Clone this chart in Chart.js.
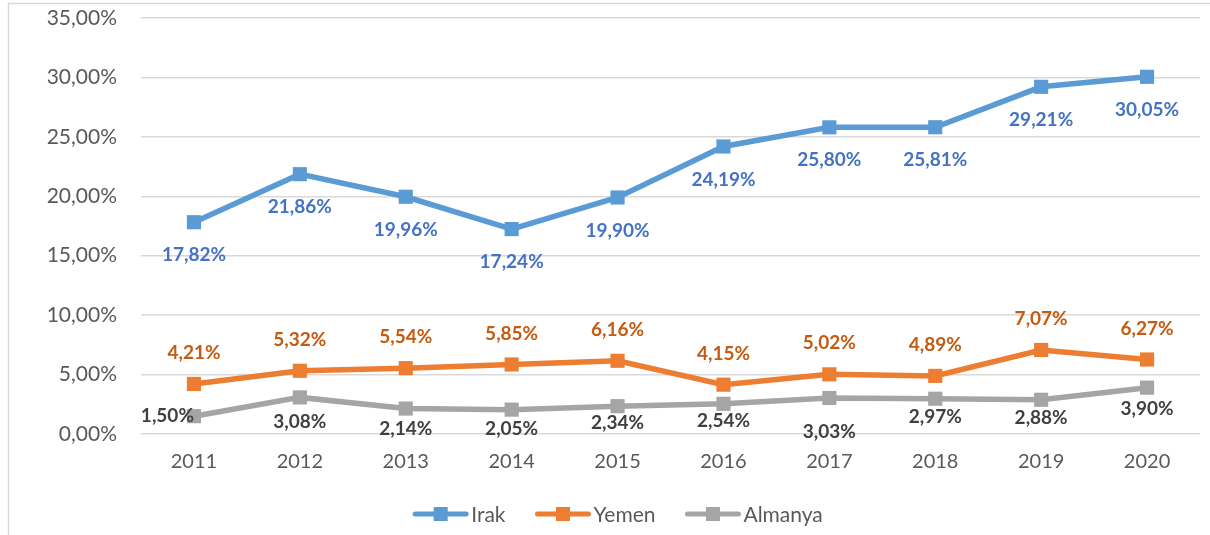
<!DOCTYPE html>
<html>
<head>
<meta charset="utf-8">
<script src="https://cdn.jsdelivr.net/npm/chart.js@4.4.1/dist/chart.umd.min.js"></script>
<style>
  html, body { margin: 0; padding: 0; background: #ffffff; }
  #wrap { position: relative; width: 1210px; height: 535px; }
  canvas { display: block; }
</style>
</head>
<body>
<div id="wrap"><canvas id="c" width="1210" height="535"></canvas></div>
<script>
const years = ['2011','2012','2013','2014','2015','2016','2017','2018','2019','2020'];
const irak    = [17.82, 21.86, 19.96, 17.24, 19.90, 24.19, 25.80, 25.81, 29.21, 30.05];
const yemen   = [4.21, 5.32, 5.54, 5.85, 6.16, 4.15, 5.02, 4.89, 7.07, 6.27];
const almanya = [1.50, 3.08, 2.14, 2.05, 2.34, 2.54, 3.03, 2.97, 2.88, 3.90];
const yTicks  = [0, 5, 10, 15, 20, 25, 30, 35];

// label placement (style only)
const irakLabelDy = 33;
const yemenLabelDy = -31;
const almanyaLabelDy = [0, 24, 20.5, 19.5, 17, 17, 34, 18, 18, 21];

const FONT = 'Lato, "Open Sans", "Noto Sans", sans-serif';

function fmt(v) { return v.toFixed(2).replace('.', ',') + '%'; }

const frame = {
  id: 'frame',
  beforeDraw(chart) {
    const ctx = chart.ctx;
    ctx.save();
    ctx.strokeStyle = '#d9d9d9';
    ctx.lineWidth = 1.5;
    ctx.beginPath();
    ctx.moveTo(8.5, 535);
    ctx.lineTo(8.5, 3.5);
    ctx.lineTo(1210, 3.5);
    ctx.stroke();
    ctx.restore();
  }
};

const dataLabels = {
  id: 'dataLabels',
  afterDatasetsDraw(chart) {
    const ctx = chart.ctx;
    ctx.save();
    ctx.font = 'bold 19px ' + FONT;
    ctx.textBaseline = 'middle';
    chart.data.datasets.forEach((ds, di) => {
      const meta = chart.getDatasetMeta(di);
      meta.data.forEach((pt, i) => {
        const v = ds.data[i];
        ctx.fillStyle = ds.labelColor;
        let x = pt.x, y = pt.y;
        ctx.textAlign = 'center';
        if (ds.labelMode === 'custom') {
          if (i === 0) { ctx.textAlign = 'right'; x = pt.x; }
          else y += ds.labelDy[i];
        } else {
          y += ds.labelDy;
        }
        ctx.fillText(fmt(v), x, y);
      });
    });
    ctx.restore();
  }
};

const legendPlugin = {
  id: 'customLegend',
  afterDraw(chart) {
    const ctx = chart.ctx;
    ctx.save();
    ctx.font = '21px ' + FONT;
    ctx.textBaseline = 'middle';
    const lineW = 55, gapText = 3, gapItem = 30, cy = 514;
    const items = chart.data.datasets.map(ds => ({ ds, tw: ctx.measureText(ds.label).width }));
    const total = items.reduce((s, it) => s + lineW + gapText + it.tw, 0) + gapItem * (items.length - 1);
    let x = 618 - total / 2;
    items.forEach(it => {
      ctx.strokeStyle = it.ds.borderColor;
      ctx.lineWidth = 5;
      ctx.lineCap = 'round';
      ctx.beginPath();
      ctx.moveTo(x + 2, cy);
      ctx.lineTo(x + lineW - 2, cy);
      ctx.stroke();
      ctx.fillStyle = it.ds.borderColor;
      ctx.fillRect(x + lineW / 2 - 7, cy - 7, 14, 14);
      ctx.fillStyle = '#595959';
      ctx.textAlign = 'left';
      ctx.fillText(it.ds.label, x + lineW + gapText, cy + 1);
      x += lineW + gapText + it.tw + gapItem;
    });
    ctx.restore();
  }
};

function series(label, data, color, labelColor, mode, dy) {
  return {
    label, data,
    borderColor: color, backgroundColor: color,
    pointBackgroundColor: color, pointBorderColor: color,
    borderWidth: 5.5, pointStyle: 'rect', pointRadius: 10, pointBorderWidth: 0,
    pointHoverRadius: 10, tension: 0,
    labelColor, labelMode: mode, labelDy: dy
  };
}

new Chart(document.getElementById('c'), {
  type: 'line',
  data: {
    labels: years,
    datasets: [
      series('Irak', irak, '#5b9bd5', '#4472c4', 'below', irakLabelDy),
      series('Yemen', yemen, '#ed7d31', '#c55a11', 'above', yemenLabelDy),
      series('Almanya', almanya, '#a5a5a5', '#404040', 'custom', almanyaLabelDy)
    ]
  },
  options: {
    responsive: false,
    animation: false,
    layout: { padding: { top: 18, right: 7, left: 0, bottom: 0 } },
    plugins: { legend: { display: false }, tooltip: { enabled: false } },
    scales: {
      x: {
        offset: true,
        grid: { display: false, drawTicks: false },
        border: { display: false },
        ticks: { color: '#595959', font: { family: FONT, size: 20 }, padding: 16 },
        afterFit(s) { s.height = 101; }
      },
      y: {
        min: 0, max: 35,
        afterBuildTicks(s) { s.ticks = yTicks.map(v => ({ value: v })); },
        grid: { color: '#d9d9d9', lineWidth: 1.5, drawTicks: false },
        border: { display: false },
        ticks: {
          color: '#595959', font: { family: FONT, size: 21 }, padding: 24,
          callback: v => fmt(v)
        },
        afterFit(s) { s.width = 141; s.paddingTop = 12; s.paddingBottom = 12; }
      }
    }
  },
  plugins: [frame, dataLabels, legendPlugin]
});
</script>
</body>
</html>
